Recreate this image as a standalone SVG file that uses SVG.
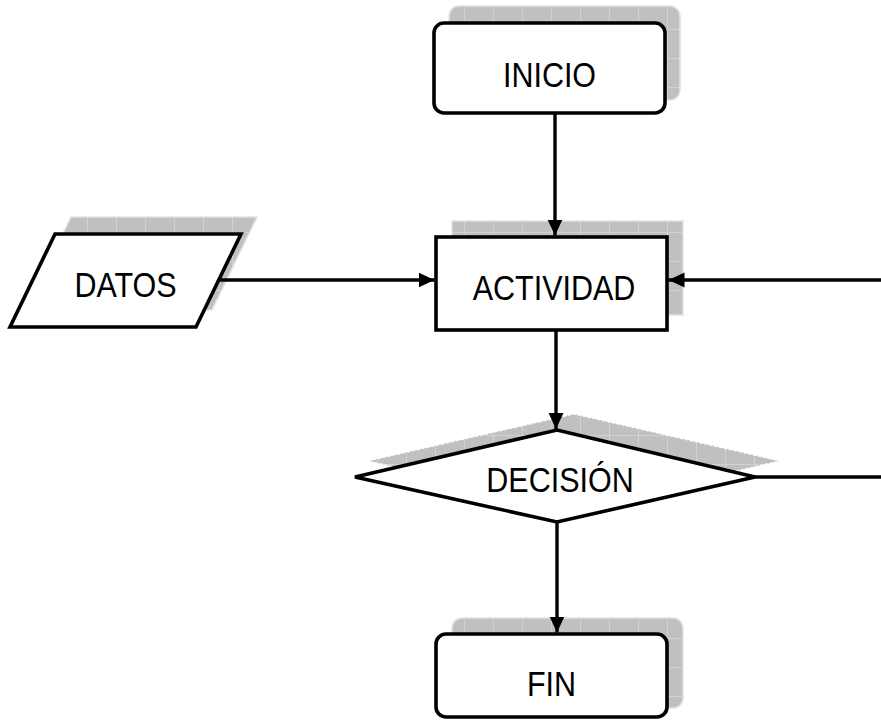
<svg xmlns="http://www.w3.org/2000/svg" width="881" height="725" viewBox="0 0 881 725">
<style>
.shadow{fill:url(#grid);stroke:#e2e2e2;stroke-width:1.5}
.box{fill:#fff;stroke:#000;stroke-width:3.6}
.lbl{font-family:"Liberation Sans",Arial,sans-serif;font-size:30.5px;fill:#000;text-anchor:middle}
.conn{stroke:#000;stroke-width:3.4;fill:none}
</style>
<defs>
<pattern id="grid" patternUnits="userSpaceOnUse" width="29" height="29" x="0" y="0">
<rect width="29" height="29" fill="#c0c0c0"/>
<path d="M0 0.5H29M0.5 0V29" stroke="#d2d2d2" stroke-width="1"/>
</pattern>
<marker id="arr" markerUnits="userSpaceOnUse" markerWidth="17" markerHeight="17" viewBox="0 0 17 17" refX="16" refY="8.5" orient="auto">
<path d="M0 1 L16 8.5 L0 16 Z" fill="#000"/>
</marker>
</defs>
<g id="inicio">
<rect class="shadow" x="449" y="6" width="231" height="94" rx="10"/>
<rect class="box" x="434" y="23" width="231" height="90" rx="10"/>
<text class="lbl" transform="translate(549.5,87) scale(1,1.14)">INICIO</text>
</g>
<g id="datos">
<polygon class="shadow" points="71,217 257,217 212,310 26,310"/>
<polygon class="box" points="55,234 241,234 196,327 10,327"/>
<text class="lbl" transform="translate(125.5,297) scale(1,1.14)">DATOS</text>
</g>
<g id="actividad">
<rect class="shadow" x="452" y="221" width="231" height="94"/>
<rect class="box" x="436" y="237" width="231" height="93"/>
<text class="lbl" transform="translate(554,300) scale(1,1.14)">ACTIVIDAD</text>
</g>
<g id="decision">
<polygon points="368,461 574,414 780,461 574,508" fill="url(#grid)" stroke="#fff" stroke-width="1.2" stroke-dasharray="3,2"/>
<polygon class="box" points="355,477 557,430 755,477 557,522"/>
<text class="lbl" transform="translate(560,492) scale(1,1.14)">DECISIÓN</text>
</g>
<g id="fin">
<rect class="shadow" x="452" y="618" width="231" height="90" rx="10"/>
<rect class="box" x="436" y="634" width="231" height="83" rx="10"/>
<text class="lbl" transform="translate(551.5,696) scale(1,1.14)">FIN</text>
</g>
<g id="connectors">
<line class="conn" x1="555" y1="113" x2="555" y2="235.5" marker-end="url(#arr)"/>
<line class="conn" x1="556" y1="330" x2="556" y2="429" marker-end="url(#arr)"/>
<line class="conn" x1="557" y1="522" x2="557" y2="632.5" marker-end="url(#arr)"/>
<line class="conn" x1="218" y1="280" x2="434.5" y2="280" marker-end="url(#arr)"/>
<line class="conn" x1="881" y1="280" x2="668.5" y2="280" marker-end="url(#arr)"/>
<line class="conn" x1="755" y1="477" x2="881" y2="477"/>
</g>
</svg>
